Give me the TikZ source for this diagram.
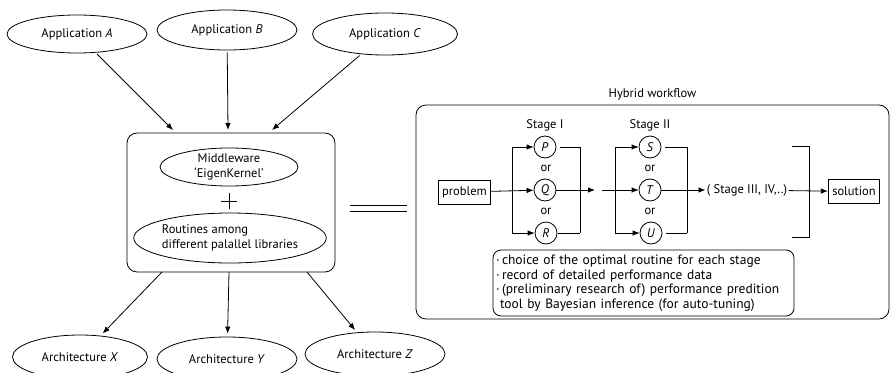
\documentclass[tikz,border=0pt]{standalone}
\usepackage{fontspec}
\setmainfont{PT Sans}
\usetikzlibrary{shapes.geometric,arrows.meta}

\begin{document}
\begin{tikzpicture}[x=1pt,y=-1pt,line width=0.8pt,font=\fontsize{12.5}{15}\selectfont]
                    \tikzstyle{oval}=[ellipse,draw,inner sep=0pt]
                    \tikzstyle{frame}=[draw,rounded corners=10pt,inner sep=0pt]
                    \tikzstyle{io}=[draw,inner xsep=4pt,inner ysep=2pt,minimum height=24pt]
                    \tikzstyle{rout}=[circle,draw,inner sep=0pt,minimum size=22pt]
                    \tikzstyle{arr}=[-{Latex[length=7pt,width=5.5pt]}]
                    \useasboundingbox (0,0) rectangle (890,372);

                    % left part
                    \node (appA) at (77,34) [oval,minimum width=140pt,minimum height=38pt] {Application \textit{A}};
                    \node (appB) at (227,30) [oval,minimum width=140pt,minimum height=40pt] {Application \textit{B}};
                    \node (appC) at (385,34) [oval,minimum width=145pt,minimum height=42pt] {Application \textit{C}};

                    \node (mid) at (231,202.5) [frame,minimum width=208pt,minimum height=139pt] {};
                    \node (mw) at (229,167) [oval,minimum width=138pt,minimum height=38pt,align=center] {Middleware\\‘EigenKernel’};
                    \node (lib) at (230,238) [oval,minimum width=176pt,minimum height=50pt,align=left] {Routines among\\different palallel libraries};
                    % plus sign
                    \draw (221,201) -- (237,201);
                    \draw (229,193) -- (229,209);

                    \node (archX) at (80,357) [oval,minimum width=135pt,minimum height=44pt] {Architecture \textit{X}};
                    \node (archY) at (227,359) [oval,minimum width=140pt,minimum height=44pt] {Architecture \textit{Y}};
                    \node (archZ) at (375,354) [oval,minimum width=140pt,minimum height=44pt] {Architecture \textit{Z}};

                    \coordinate (inA) at (173,130);
                    \coordinate (inB) at (228,130);
                    \coordinate (inC) at (272,130);
                    \coordinate (outX) at (162,272);
                    \coordinate (outY) at (229,272);
                    \coordinate (outZ) at (307,272);

                    \draw [arr,shorten <=2pt] (appA) -- (inA);
                    \draw [arr,shorten <=2pt] (appB) -- (inB);
                    \draw [arr,shorten <=2pt] (appC) -- (inC);
                    \draw [arr,shorten >=3pt] (outX) -- (archX);
                    \draw [arr,shorten >=3pt] (outY) -- (archY);
                    \draw [arr,shorten >=3pt] (outZ) -- (archZ);

                    % equals sign
                    \draw (350,205) -- (407,205);
                    \draw (350,211) -- (407,211);

                    % hybrid workflow
                    \node (hyb) at (652.5,212) [frame,minimum width=473pt,minimum height=214pt] {};
                    \node at (hyb.north) [above=1pt] {Hybrid workflow};

                    \node (prob) at (464.5,192) [io] {problem};
                    \node (sol) at (854,191.5) [io] {solution};

                    \node (p) at (545,147) [rout] {\textit{P}};
                    \node (q) at (545,190) [rout] {\textit{Q}};
                    \node (r) at (546,233) [rout] {\textit{R}};
                    \node (s) at (650,147) [rout] {\textit{S}};
                    \node (t) at (650,190) [rout] {\textit{T}};
                    \node (u) at (651,233) [rout] {\textit{U}};

                    \node at (p.north) [above=1pt] {Stage I};
                    \node at (s.north) [above=1pt] {Stage II};
                    \node at (546,168) {or};
                    \node at (546,211) {or};
                    \node at (650,168) {or};
                    \node at (650,211) {or};

                    \coordinate (f1) at (512,147);
                    \coordinate (f2) at (512,233);
                    \coordinate (b1) at (580,147);
                    \coordinate (b2) at (580,233);
                    \coordinate (m1) at (595,190);
                    \coordinate (m2) at (602,190);
                    \coordinate (f3) at (615,147);
                    \coordinate (f4) at (615,233);
                    \coordinate (b3) at (687,147);
                    \coordinate (b4) at (687,233);

                    \draw [arr] (prob) -- (q);
                    \draw (f1) -- (f2);
                    \draw [arr] (f1) -- (p);
                    \draw [arr] (f2) -- (r);
                    \draw [shorten <=4pt] (p.east) -- (b1) -- (b2);
                    \draw [shorten <=1pt] (r.east) -- (b2);
                    \draw [arr] (q) -- (m1);

                    \draw [arr] (m2) -- (t);
                    \draw (f3) -- (f4);
                    \draw [arr] (f3) -- (s);
                    \draw [arr] (f4) -- (u);
                    \draw [shorten <=4pt] (s.east) -- (b3) -- (b4);
                    \draw [shorten <=4pt] (u.east) -- (b4);

                    \node (more) at (747,190) [inner sep=1pt] {( Stage III, IV,..)};
                    \draw [arr] (t) -- (more);
                    \draw (792,146) -- (809,146) -- (809,237) -- (792,237);
                    \draw [arr] (more) -- (sol);

                    \node (notes) at (643.5,283) [draw,rounded corners=8pt,minimum width=301pt,minimum height=66pt,text width=295pt,inner sep=3pt,align=left,font=\fontsize{13.5}{14.5}\selectfont]
                        {\makebox[6pt][l]{·}choice of the optimal routine for each stage\\
                         \makebox[6pt][l]{·}record of detailed performance data\\
                         \makebox[6pt][l]{·}(preliminary research of) performance predition\\
                         \hspace{4pt}tool by Bayesian inference (for auto-tuning)};
                \end{tikzpicture}
\end{document}
